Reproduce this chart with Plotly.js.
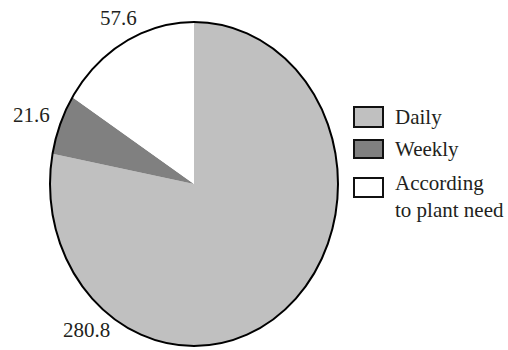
<!DOCTYPE html>
<html>
<head>
<meta charset="utf-8">
<script src="https://cdn.plot.ly/plotly-3.0.1.min.js"></script>
<style>html,body{margin:0;padding:0;background:#fff;overflow:hidden;}#chart{width:508px;height:350px;}</style>
</head>
<body>
<div id="chart"></div>
<script>
// Data
const categories = ['Daily', 'Weekly', 'According to plant need'];
const values = [280.8, 21.6, 57.6];
const sliceColors = ['#c0c0c0', '#808080', '#ffffff'];

// Layout helpers (pixels in a 508x350 figure)
const W = 508, H = 350;
const px = x => x / W;
const py = y => 1 - y / H;
const cx = 194, cy = 184, rx = 144, ry = 162;
const font = {family: 'Liberation Serif', size: 21, color: '#231f20'};

const trace = {
  type: 'pie',
  labels: categories,
  values: values,
  sort: false,
  direction: 'clockwise',
  rotation: 0,
  textinfo: 'none',
  hoverinfo: 'none',
  showlegend: false,
  marker: {colors: sliceColors, line: {width: 0}},
  domain: {x: [px(cx - ry), px(cx + ry)], y: [py(cy + ry), py(cy - ry)]}
};

// value label positions (centres, px), same order as values
const valuePos = [[86.5, 330], [31.5, 115], [118, 18]];
const annotations = [];
const shapes = [];
values.forEach((v, i) => {
  annotations.push({
    xref: 'paper', yref: 'paper', x: px(valuePos[i][0]), y: py(valuePos[i][1]),
    xanchor: 'center', yanchor: 'middle', showarrow: false,
    text: String(v), font: Object.assign({}, font)
  });
});

// outline
shapes.push({type: 'circle', xref: 'paper', yref: 'paper',
  x0: px(cx - rx), x1: px(cx + rx), y0: py(cy + ry), y1: py(cy - ry),
  line: {color: '#000', width: 2}, fillcolor: 'rgba(0,0,0,0)', layer: 'above'});

// legend
const boxY = [[107, 127], [140, 158], [178, 197]];
const textY = [117, 149, 196];
categories.forEach((c, i) => {
  shapes.push({type: 'rect', xref: 'paper', yref: 'paper',
    x0: px(354), x1: px(383), y0: py(boxY[i][1]), y1: py(boxY[i][0]),
    fillcolor: sliceColors[i], line: {color: '#111', width: 2}});
  annotations.push({
    xref: 'paper', yref: 'paper', x: px(393), y: py(textY[i]),
    xanchor: 'left', yanchor: 'middle', align: 'left', showarrow: false,
    text: c.replace(' to ', '<br>to '), font: Object.assign({}, font)
  });
});

const layout = {
  width: W, height: H,
  margin: {l: 0, r: 0, t: 0, b: 0, pad: 0},
  paper_bgcolor: '#fff', plot_bgcolor: '#fff',
  showlegend: false,
  font: Object.assign({}, font),
  annotations: annotations,
  shapes: shapes
};

Plotly.newPlot('chart', [trace], layout, {displayModeBar: false}).then(() => {
  const g = document.querySelector('.pielayer .trace');
  if (g) {
    g.setAttribute('transform', `translate(${cx},${cy}) scale(${rx / ry},1) translate(${-cx},${-cy})`);
  }
});
</script>
</body>
</html>
